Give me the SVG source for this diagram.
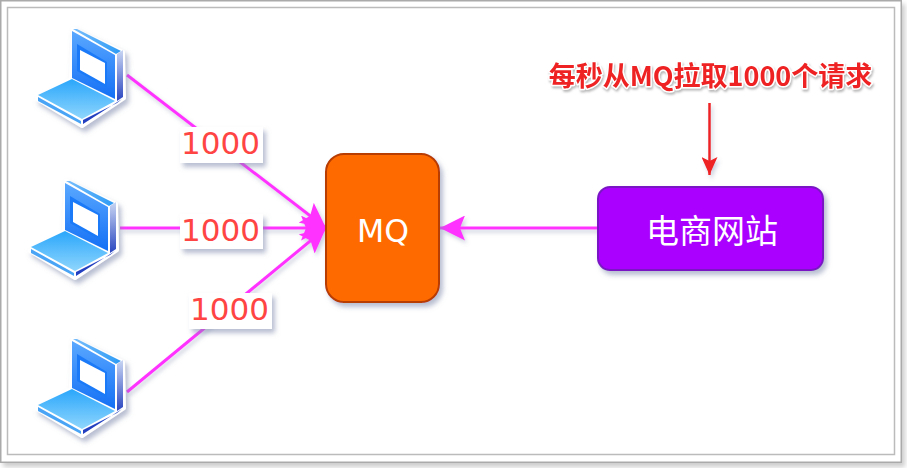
<svg xmlns="http://www.w3.org/2000/svg" width="907" height="468" viewBox="0 0 907 468">
<style>
.lk{stroke:#ff33ff;stroke-width:3;fill:none}
.lab{fill:#fff;filter:url(#sh)}
.num{font-family:"DejaVu Sans",Verdana,sans-serif;font-size:31px;fill:#ff4444}
.cap{font-family:"DejaVu Sans",sans-serif;fill:#fff}
.cjk{font-family:"Noto Sans CJK SC",sans-serif;fill:#fff}
</style>
<defs>
<filter id="sh" x="-20%" y="-20%" width="150%" height="150%"><feDropShadow dx="3" dy="4" stdDeviation="2.5" flood-color="#7d88aa" flood-opacity=".55"/></filter>
<filter id="ls" x="-5%" y="-5%" width="110%" height="110%"><feDropShadow dx="2" dy="3" stdDeviation="2" flood-color="#7d88aa" flood-opacity=".4"/></filter>
<filter id="fr" x="-3%" y="-3%" width="106%" height="108%"><feDropShadow dx="3" dy="4" stdDeviation="2.5" flood-color="#999" flood-opacity=".5"/></filter>
<filter id="ts" x="-5%" y="-20%" width="110%" height="150%"><feDropShadow dx="1" dy="2" stdDeviation="1" flood-color="#888" flood-opacity=".6"/></filter>
<linearGradient id="kb" x1="0" y1="0" x2="0" y2="1"><stop offset="0" stop-color="#2aa6fb"/><stop offset="1" stop-color="#8fd6fd"/></linearGradient>
<linearGradient id="sc" x1="0" y1="0" x2="0" y2="1"><stop offset="0" stop-color="#5aa8ff"/><stop offset="1" stop-color="#1470f5"/></linearGradient>
<linearGradient id="sd" x1="0" y1="0" x2="0" y2="1"><stop offset="0" stop-color="#c9d6f3"/><stop offset="1" stop-color="#2a46c0"/></linearGradient>
<linearGradient id="st" x1="0" y1="0" x2="1" y2="0"><stop offset="0" stop-color="#78bdfb"/><stop offset="1" stop-color="#2d9bf5"/></linearGradient>
<marker id="mh" viewBox="0 0 25 25" refX="25" refY="12.5" markerWidth="25" markerHeight="25" markerUnits="userSpaceOnUse" orient="auto"><path d="M0 0L25 12.5L0 25L5 12.5Z" fill="#ff33ff"/></marker>
<marker id="mr" viewBox="0 0 18 16" refX="18" refY="8" markerWidth="18" markerHeight="16" markerUnits="userSpaceOnUse" orient="auto"><path d="M0 0L18 8L0 16L4 8Z" fill="#ee2222"/></marker>
<g id="pc">
<g filter="url(#sh)">
<path d="M73 29L123 52L124 98L82 126L37 99L71 79Z" fill="#fff" stroke="#fff" stroke-width="4" stroke-linejoin="round"/>
</g>
<path d="M73 29L77 29L121 51L116 54Z" fill="url(#st)"/>
<path d="M72 31L115 55L115 99L72 78Z" fill="url(#sc)"/>
<path d="M77 44L107 62L107 88L77 71Z" fill="#1a7af8"/>
<path d="M80 50L105 63L105 84L80 70Z" fill="#fff"/>
<path d="M117 54L123 50L123 97L117 101Z" fill="url(#sd)"/>
<path d="M38 95L72 79L115 101L82 119Z" fill="url(#kb)"/>
<path d="M38 97L81 121L81 124L38 101Z" fill="#4aa4f5"/>
<path d="M83 120L117 103L122 99L83 124Z" fill="#2340c0"/>
</g>
</defs>
<rect x="0" y="0" width="907" height="468" fill="#fff"/>
<rect x="0.75" y="0.75" width="900.5" height="461.5" fill="#fff" stroke="#aaa" stroke-width="1.5" filter="url(#fr)"/>
<rect x="7.5" y="7.5" width="887" height="447" fill="#fff" stroke="#bbb" stroke-width="1.5"/>
<g id="connectors" filter="url(#ls)">
<path class="lk" d="M127 75L326 228" marker-end="url(#mh)"/>
<path class="lk" d="M120 228L326 228" marker-end="url(#mh)"/>
<path class="lk" d="M127 392L326 228" marker-end="url(#mh)"/>
<path class="lk" d="M598 228L440 228" marker-end="url(#mh)"/>
<path d="M709.5 103V175" stroke="#ee2222" stroke-width="2.5" fill="none" marker-end="url(#mr)"/>
</g>
<g id="laptop1"><use href="#pc"/></g>
<g id="laptop2"><use href="#pc" x="-7" y="152"/></g>
<g id="laptop3"><use href="#pc" y="310"/></g>
<g id="label1"><rect class="lab" x="180" y="127" width="83" height="36"/><text class="num" x="181" y="154">1000</text></g>
<g id="label2"><rect class="lab" x="180" y="214" width="83" height="35"/><text class="num" x="181" y="241">1000</text></g>
<g id="label3"><rect class="lab" x="189" y="293" width="83" height="36"/><text class="num" x="190" y="320">1000</text></g>
<g id="mq"><rect x="326" y="154" width="113" height="148" rx="18" fill="#ff6a00" stroke="#b83c00" stroke-width="2" filter="url(#sh)"/><text class="cap" x="383" y="242" font-size="31.5" text-anchor="middle">MQ</text></g>
<g id="shop"><rect x="598" y="187" width="225" height="83" rx="12" fill="#aa00ff" stroke="#7a14c4" stroke-width="2" filter="url(#sh)"/><text class="cjk" x="712" y="243" font-size="33" text-anchor="middle">电商网站</text></g>
<g id="note"><text x="710.5" y="86" text-anchor="middle" font-family="'Noto Sans CJK SC',sans-serif" font-size="27" font-weight="700" fill="#ee2222" stroke="#fff" stroke-width="3" paint-order="stroke" stroke-linejoin="round" filter="url(#ts)">每秒从MQ拉取1000个请求</text></g>
</svg>
